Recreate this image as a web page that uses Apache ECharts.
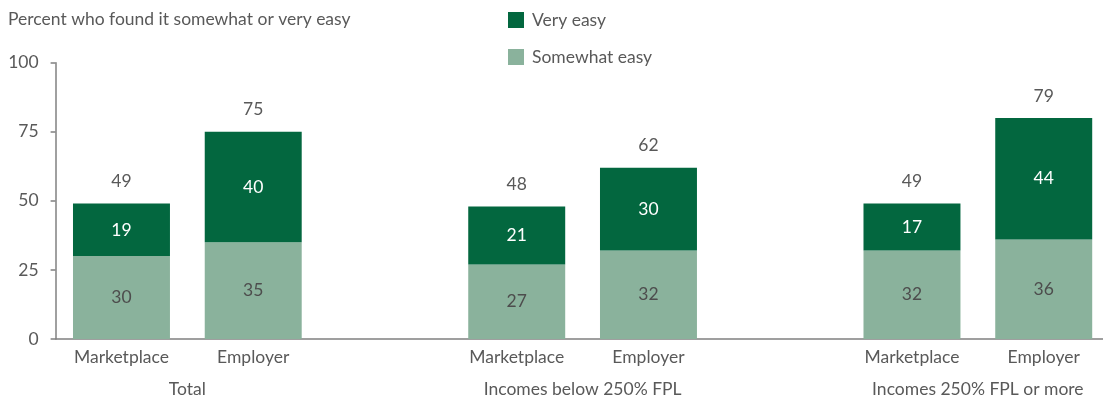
<!DOCTYPE html>
<html>
<head>
<meta charset="utf-8">
<script src="https://cdn.jsdelivr.net/npm/echarts@6/dist/echarts.min.js"></script>
<style>
  html, body { margin: 0; padding: 0; background: #fff; }
  #chart { width: 1103px; height: 398px; }
</style>
</head>
<body>
<div id="chart"></div>
<script>
// Bar slots: Marketplace / Employer per income group, empty slots as spacers
const categories = ['Marketplace', 'Employer', '', 'Marketplace', 'Employer', '', 'Marketplace', 'Employer'];
const groupLabels = ['', 'Total', '', '', 'Incomes below 250% FPL', '', '', 'Incomes 250% FPL or more', ''];
const somewhatEasy = [30, 35, null, 27, 32, null, 32, 36];
const veryEasy = [19, 40, null, 21, 30, null, 17, 44];
const totals = [49, 75, null, 48, 62, null, 49, 79];
const yTicks = [0, 25, 50, 75, 100];

const FONT = 'Lato, "Open Sans", sans-serif';
const FS = 17.5;
const TEXT = '#595959';
const DARK = '#03673f';
const LIGHT = '#8ab29c';

const chart = echarts.init(document.getElementById('chart'));
chart.setOption({
  animation: false,
  textStyle: { fontFamily: FONT, color: TEXT },
  title: {
    text: 'Percent who found it somewhat or very easy',
    left: 3, top: 5,
    textStyle: { fontFamily: FONT, fontSize: FS, fontWeight: 'normal', color: TEXT }
  },
  legend: {
    orient: 'vertical',
    left: 503, top: 6,
    itemWidth: 16, itemHeight: 16, itemGap: 19,
    icon: 'rect',
    data: ['Very easy', 'Somewhat easy'],
    textStyle: { fontFamily: FONT, fontSize: FS, color: TEXT, padding: [0, 0, 0, 3] }
  },
  grid: { left: 55.6, width: 1054, top: 62.7, bottom: 59, outerBoundsMode: 'none', containLabel: false },
  xAxis: [
    {
      type: 'category',
      data: categories,
      axisLine: { lineStyle: { color: '#808080', width: 1.5 } },
      axisTick: { show: false },
      axisLabel: { interval: 0, fontFamily: FONT, fontSize: FS, color: TEXT, margin: 9 }
    },
    {
      type: 'category',
      position: 'bottom',
      boundaryGap: false,
      data: groupLabels,
      axisLine: { show: false },
      axisTick: { show: false },
      axisLabel: { interval: 0, fontFamily: FONT, fontSize: FS, color: TEXT, margin: 41 }
    }
  ],
  yAxis: {
    type: 'value',
    min: yTicks[0], max: yTicks[yTicks.length - 1], interval: 25,
    splitLine: { show: false },
    axisLine: { show: true, lineStyle: { color: '#808080', width: 1.5 } },
    axisTick: { show: true, inside: false, length: 5, lineStyle: { color: '#808080', width: 1.5 } },
    axisLabel: { fontFamily: FONT, fontSize: FS, color: TEXT, margin: 17 }
  },
  series: [
    {
      name: 'Somewhat easy',
      type: 'bar',
      stack: 'easy',
      data: somewhatEasy,
      barCategoryGap: '26.4%',
      itemStyle: { color: LIGHT },
      label: { show: true, position: 'inside', fontFamily: FONT, fontSize: FS, color: '#4d4d4d' }
    },
    {
      name: 'Very easy',
      type: 'bar',
      stack: 'easy',
      data: veryEasy,
      itemStyle: { color: DARK },
      label: { show: true, position: 'inside', fontFamily: FONT, fontSize: FS, color: '#ffffff' }
    },
    {
      name: 'Total',
      type: 'bar',
      stack: 'easy',
      data: totals.map(v => (v == null ? null : 0)),
      itemStyle: { color: 'transparent' },
      label: {
        show: true, position: 'top', distance: 13,
        fontFamily: FONT, fontSize: FS, color: TEXT,
        formatter: p => totals[p.dataIndex]
      }
    }
  ]
});
</script>
</body>
</html>
